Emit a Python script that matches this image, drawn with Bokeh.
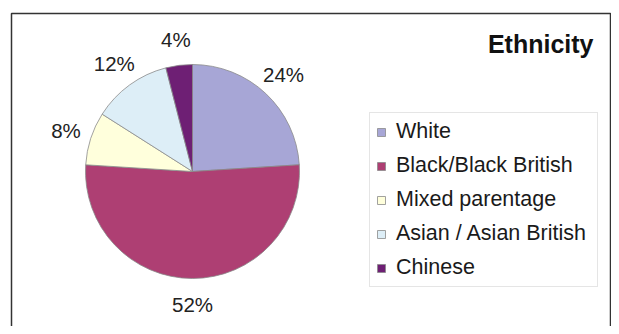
import math
from bokeh.plotting import figure
from bokeh.models import Range1d, ColumnDataSource, Legend, LegendItem, Label, BoxAnnotation
from bokeh.core.properties import value
from bokeh.embed import file_html
from bokeh.resources import INLINE

# ---- data ----
categories = ["White", "Black/Black British", "Mixed parentage", "Asian / Asian British", "Chinese"]
percents = [24, 52, 8, 12, 4]
colors = ["#A7A6D6", "#AE3F73", "#FFFFDC", "#DDEEF7", "#6E1F74"]
title_text = "Ethnicity"

W, H = 611, 326
CX, CY = 192, 171  # pie centre in figure pixels (from top-left)
R = 107
LABEL_R = 133

p = figure(width=W, height=H, output_backend="svg", toolbar_location=None,
           x_range=Range1d(-CX, W - CX), y_range=Range1d(CY - H, CY),
           min_border=0, outline_line_color=None)
p.axis.visible = False
p.grid.visible = False
p.background_fill_color = "white"
p.border_fill_color = "white"

total = sum(percents)
starts, ends, lx, ly, labels = [], [], [], [], []
cum = 0.0
for v in percents:
    a0 = math.pi / 2 - 2 * math.pi * cum / total
    a1 = a0 - 2 * math.pi * v / total
    starts.append(a0)
    ends.append(a1)
    mid = (a0 + a1) / 2
    lx.append(LABEL_R * math.cos(mid))
    ly.append(LABEL_R * math.sin(mid))
    labels.append(f"{v}%")
    cum += v

items = []
for i, c in enumerate(categories):
    r = p.wedge(x=0, y=0, radius=R, start_angle=starts[i], end_angle=ends[i],
                direction="clock", fill_color=colors[i], line_color="#8a8a8a", line_width=0.8)
    items.append(LegendItem(label=c, renderers=[r]))

lsrc = ColumnDataSource(dict(x=lx, y=ly, t=labels))
p.text(x="x", y="y", text="t", source=lsrc, text_align="center", text_baseline="middle",
       text_font=value("Liberation Sans"), text_font_size="20.5px", text_color="#222222")

legend = Legend(items=items, location=(369, 39), orientation="vertical",
                glyph_width=10, glyph_height=10, label_height=22, spacing=9,
                padding=6, margin=0, label_standoff=10, label_width=195,
                label_text_font="Liberation Sans", label_text_font_size="21.5px",
                label_text_color="#1a1a1a",
                border_line_color="#cccccc", border_line_width=1,
                background_fill_color="white", background_fill_alpha=1.0)
p.add_layout(legend, "center")

p.add_layout(Label(x=593, y=H - 43, x_units="screen", y_units="screen", text=title_text,
                   text_align="right", text_baseline="middle",
                   text_font="Liberation Sans", text_font_style="bold",
                   text_font_size="25px", text_color="#111111"))

p.add_layout(BoxAnnotation(left=11, right=610, top=H - 13, bottom=-20,
                           left_units="screen", right_units="screen",
                           top_units="screen", bottom_units="screen",
                           fill_alpha=0, line_color="#333333", line_alpha=1.0,
                           line_width=1.5))

open("out.html", "w").write(file_html(p, INLINE))
